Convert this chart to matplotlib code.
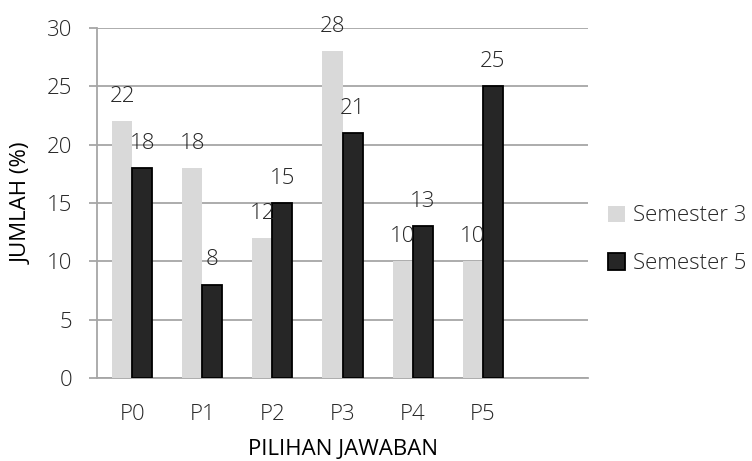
import numpy as np
import matplotlib.pyplot as plt

plt.rcParams['font.family'] = ['Open Sans', 'DejaVu Sans']

categories = ['P0', 'P1', 'P2', 'P3', 'P4', 'P5']
semester3 = [22, 18, 12, 28, 10, 10]
semester5 = [18, 8, 15, 21, 13, 25]

grid_col = '#a6a6a6'
txt_col = '#262626'
fig = plt.figure(figsize=(7.52, 4.61), dpi=100)
ax = fig.add_axes([0.129, 0.18, 0.653, 0.759])

x = np.arange(len(categories))
w = 0.286
b3 = ax.bar(x - w / 2, semester3, w, color='#d9d9d9', label='Semester 3', zorder=3)
b5 = ax.bar(x + w / 2, semester5, w, color='#262626', edgecolor='black',
            linewidth=1.3, label='Semester 5', zorder=3)

# angka di atas tiap batang
for bars, vals in ((b3, semester3), (b5, semester5)):
    for r, v in zip(bars, vals):
        ax.annotate(str(v), (r.get_x() + r.get_width() / 2, v),
                    xytext=(0, 18), textcoords='offset points',
                    ha='center', va='center', fontsize=16, fontweight='light',
                    color=txt_col, zorder=4)

ax.set_xlim(-0.5, 6.5)
ax.set_ylim(0, 30)
ax.set_yticks(range(0, 31, 5))
ax.set_xticks(x)
ax.set_xticklabels(categories)
ax.yaxis.grid(True, color=grid_col, linewidth=1.3, zorder=0)
ax.set_axisbelow(True)

for s in ('top', 'right'):
    ax.spines[s].set_visible(False)
for s in ('left', 'bottom'):
    ax.spines[s].set_color(grid_col)
    ax.spines[s].set_linewidth(1.3)

ax.tick_params(axis='y', length=6, color=grid_col, width=1.3, pad=12,
               labelsize=16, labelcolor=txt_col)
ax.tick_params(axis='x', length=0, pad=19, labelsize=16, labelcolor=txt_col)
for lab in ax.get_xticklabels() + ax.get_yticklabels():
    lab.set_fontweight('light')

ax.set_xlabel('PILIHAN JAWABAN', fontsize=16, fontweight='normal',
              labelpad=10, color='black')
ax.set_ylabel('JUMLAH (%)', fontsize=16, fontweight='normal',
              labelpad=10, color='black')

leg = ax.legend(loc='center left', bbox_to_anchor=(1.041, 0.395), frameon=False,
                fontsize=16, handlelength=0.75, handleheight=0.75,
                handletextpad=0.35, labelspacing=1.2, borderpad=0,
                borderaxespad=0)
for t in leg.get_texts():
    t.set_color(txt_col)
    t.set_fontweight('light')

fig.savefig('out.png', dpi=100)
